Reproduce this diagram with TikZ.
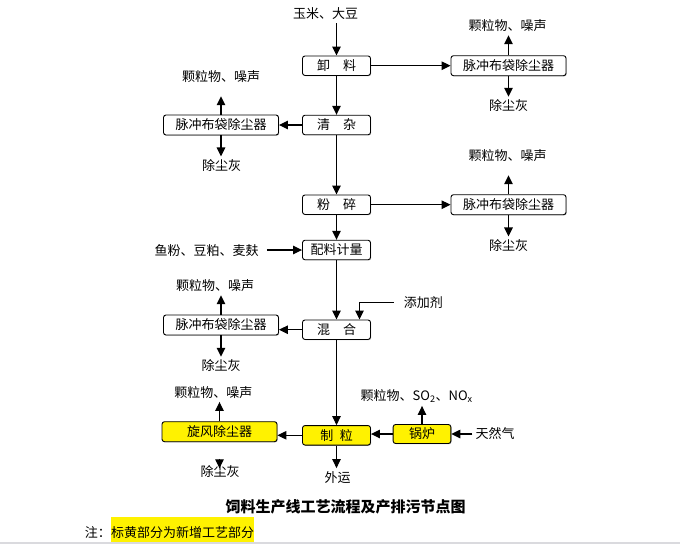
\documentclass[tikz,border=0pt]{standalone}
\usepackage{fontspec}
\setmainfont{Noto Sans CJK SC}
\usepackage{tikz}
\usetikzlibrary{arrows.meta,shadows}
\definecolor{stripgray}{RGB}{218,218,222}

\begin{document}
\begin{tikzpicture}[x=1pt, y=-1pt, font=\fontsize{13}{15}\selectfont,
  box/.style={draw, line width=0.9pt, rounded corners=2.5pt, inner sep=0pt, minimum height=19.5pt, fill=white,
    drop shadow={shadow xshift=0.7pt, shadow yshift=-0.7pt, fill=gray!60, opacity=1}},
  proc/.style={box, minimum width=68pt},
  bag/.style={box, minimum width=115pt, minimum height=20pt},
  newbox/.style={fill=yellow},
  txt/.style={inner sep=3pt},
  arr/.style={-{Triangle[length=9pt,width=8.5pt]}, line width=1.1pt}]
\useasboundingbox (0,0) rectangle (680,544);
\fill[stripgray] (0,541.7) rectangle (680,544);

\node[txt] (src) at (325.5,14) {玉米、大豆};
\node[proc] (xie) at (336.5,65.7) {卸\quad 料};
\node[bag] (bag1) at (508.5,65.7) {脉冲布袋除尘器};
\node[txt] (p1) at (507.7,26) {颗粒物、噪声};
\node[txt] (d1) at (508.7,106) {除尘灰};
\node[proc] (qing) at (336.5,125) {清\quad 杂};
\node[bag] (bag2) at (221,125) {脉冲布袋除尘器};
\node[txt] (p2) at (221,77) {颗粒物、噪声};
\node[txt] (d2) at (221.7,165.7) {除尘灰};
\node[proc] (fen) at (336.5,204.7) {粉\quad 碎};
\node[bag] (bag3) at (508.5,204.7) {脉冲布袋除尘器};
\node[txt] (p3) at (507.7,156) {颗粒物、噪声};
\node[txt] (d3) at (508.7,245.7) {除尘灰};
\node[proc] (pei) at (336.5,250) {配料计量};
\node[txt] (fish) at (206.7,250.7) {鱼粉、豆粕、麦麸};
\node[proc] (hun) at (336.5,329.7) {混\quad 合};
\node[txt] (tj) at (423.3,302.3) {添加剂};
\node[bag] (bag4) at (221,325) {脉冲布袋除尘器};
\node[txt] (p4) at (215,286) {颗粒物、噪声};
\node[txt] (d4) at (221,366) {除尘灰};
\node[proc, newbox] (zhi) at (336.5,435.3) {制\enspace 粒};
\node[bag, newbox] (xf) at (219.5,431.7) {旋风除尘器};
\node[txt] (p5) at (213.3,392.7) {颗粒物、噪声};
\node[txt] (d5) at (220,471) {除尘灰};
\node[txt] (wy) at (337.7,477.3) {外运};
\node[box, newbox, minimum width=57.7pt, minimum height=19pt] (gl) at (422,434) {锅炉};
\node[txt] (p6) at (416.7,396) {颗粒物、SO\textsubscript{2}、NO\textsubscript{x}};
\node[txt] (tr) at (495,434) {天然气};

\draw[arr] (src.south -| xie.north) -- (xie.north);
\draw[arr] (xie) -- (bag1);
\draw[arr] (bag1.north) -- (bag1.north |- p1.south);
\draw[arr] (bag1.south) -- (bag1.south |- d1.north);
\draw[arr] (xie) -- (qing);
\draw[arr] (qing) -- (bag2);
\draw[arr, shorten >=10pt] (bag2.north) -- (bag2.north |- p2.south);
\draw[arr] (bag2.south) -- (bag2.south |- d2.north);
\draw[arr] (qing) -- (fen);
\draw[arr] (fen) -- (bag3);
\draw[arr, shorten >=10pt] (bag3.north) -- (bag3.north |- p3.south);
\draw[arr] (bag3.south) -- (bag3.south |- d3.north);
\draw[arr] (fen) -- (pei);
\draw[arr, shorten <=5pt] (fish.east |- pei.west) -- (pei.west);
\draw[arr] (pei) -- (hun);
\draw[arr, shorten <=7pt] (tj.west) -| ([xshift=23pt]hun.north);
\draw[arr] (hun.west) -- (hun.west -| bag4.east);
\draw[arr] (bag4.north) -- (bag4.north |- p4.south);
\draw[arr] (bag4.south) -- (bag4.south |- d4.north);
\draw[arr] (hun) -- (zhi);
\draw[arr] (zhi.west) -- (zhi.west -| xf.east);
\draw[arr] (xf.north) -- (xf.north |- p5.south);
\draw[arr, shorten <=16.6pt, shorten >=2.7pt] (xf.south) -- (xf.south |- d5.center);
\draw[arr] (zhi.south) -- (zhi.south |- wy.north);
\draw[arr] (gl.west) -- (gl.west -| zhi.east);
\draw[arr] (gl.north) -- (gl.north |- p6.south);
\draw[arr] (tr.west) -- (tr.west -| gl.east);

\node[font=\fontsize{15}{17}\selectfont\bfseries] (title) at (345.7,506.7) {饲料生产线工艺流程及产排污节点图};
\node[inner sep=0pt, fill=yellow, text height=20.2pt, text depth=4.2pt, anchor=base west] (mark) at (111,537.5) {标黄部分为新增工艺部分};
\node[inner sep=0pt, anchor=base east] (zhu) at (mark.base west) {注：};
\end{tikzpicture}
\end{document}
